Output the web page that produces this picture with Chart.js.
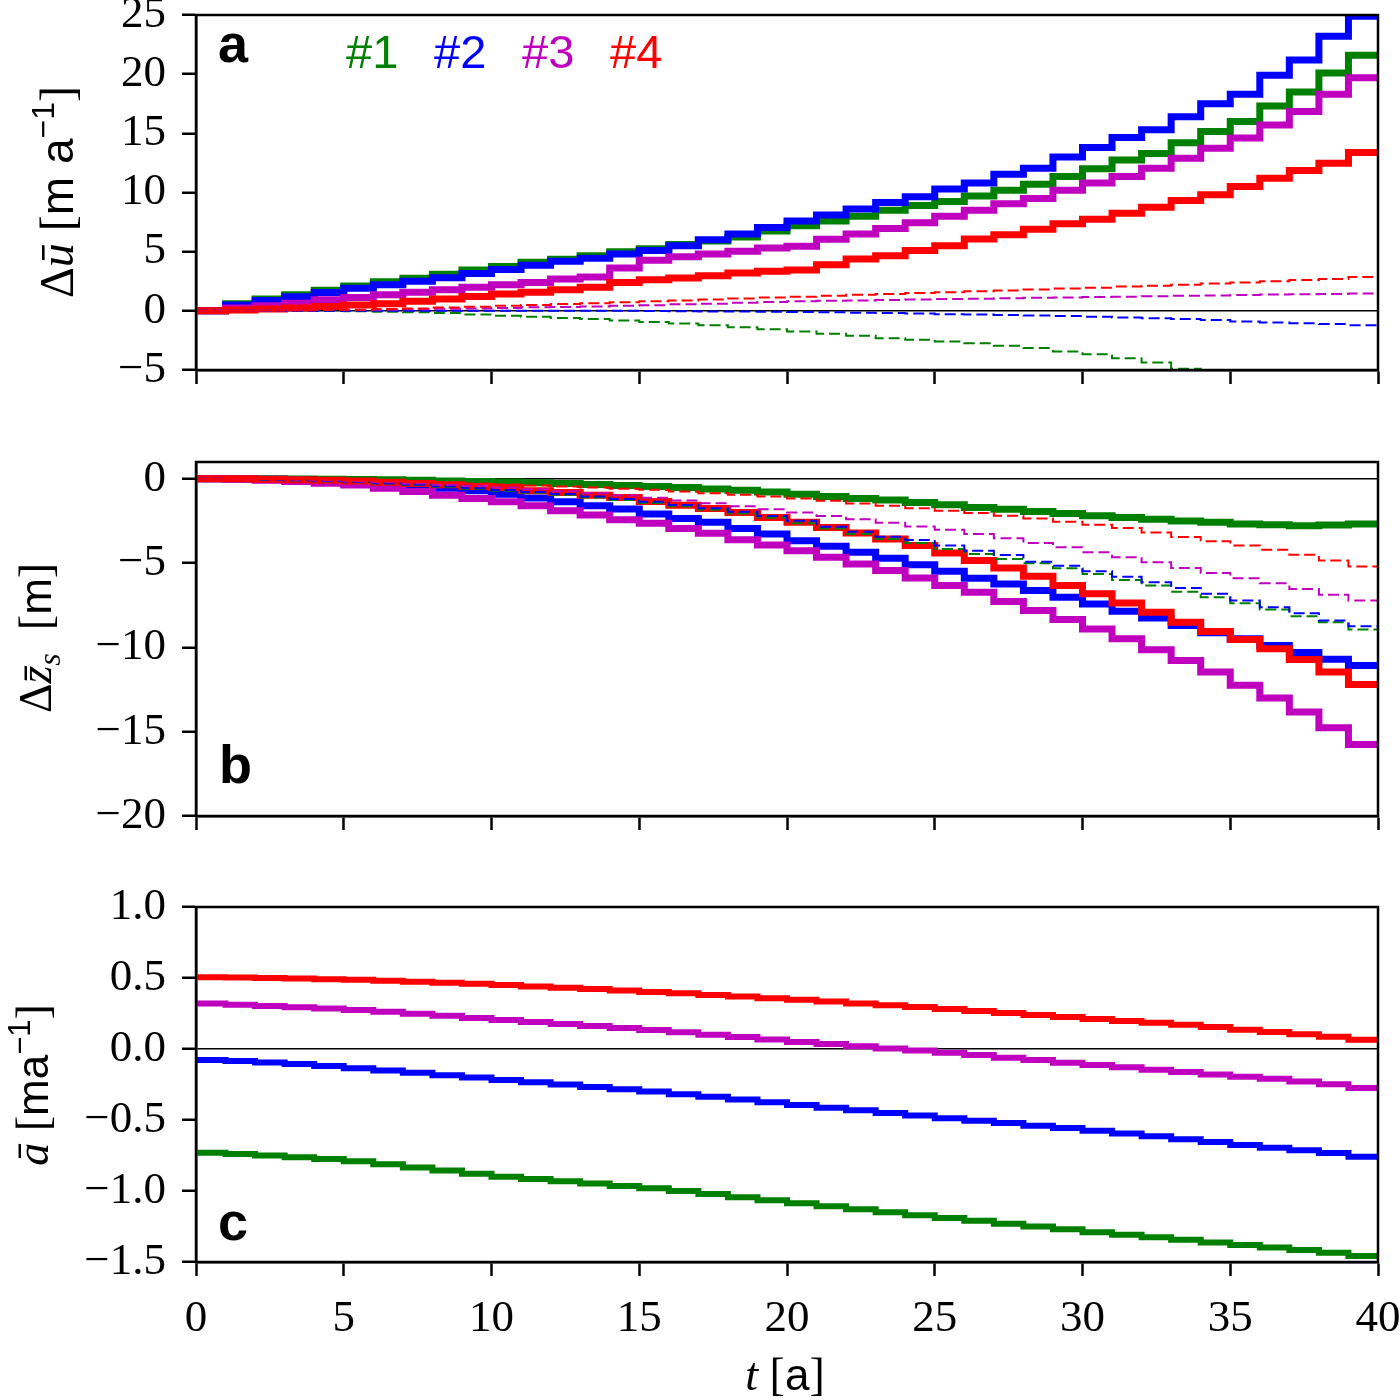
<!DOCTYPE html>
<html>
<head>
<meta charset="utf-8">
<script src="https://cdn.jsdelivr.net/npm/chart.js@4.4.1/dist/chart.umd.min.js"></script>
<style>
  html, body { margin: 0; padding: 0; background: #fff; }
  #wrap { position: relative; width: 1400px; height: 1400px; background: #fff; }
  canvas { position: absolute; left: 0; }
</style>
</head>
<body>
<div id="wrap">
  <canvas id="cA" width="1400" height="400" style="top:0px"></canvas>
  <canvas id="cB" width="1400" height="410" style="top:440px"></canvas>
  <canvas id="cC" width="1400" height="520" style="top:880px"></canvas>
</div>
<script>
// time axis [a]
const years = [0, 1, 2, 3, 4, 5, 6, 7, 8, 9, 10, 11, 12, 13, 14, 15, 16, 17, 18, 19, 20,
  21, 22, 23, 24, 25, 26, 27, 28, 29, 30, 31, 32, 33, 34, 35, 36, 37, 38, 39, 40];

const runNames = ['#1', '#2', '#3', '#4'];
const runColors = ['#008000', '#0000ff', '#bf00bf', '#ff0000'];

// panel a: velocity change [m/a], solid and dashed
const duSolid1 = [0, 0.6, 1.0, 1.35, 1.75, 2.1, 2.45, 2.75, 3.1, 3.45,
  3.75, 4.1, 4.35, 4.65, 5.0, 5.25, 5.6, 5.9, 6.25, 6.75,
  7.2, 7.6, 8.0, 8.5, 8.9, 9.25, 9.7, 10.2, 10.7, 11.35,
  12.0, 12.75, 13.3, 14.2, 15.15, 16.0, 17.3, 18.5, 20.1, 21.6, 21.6];
const duSolid2 = [0, 0.5, 0.88, 1.2, 1.55, 1.9, 2.2, 2.5, 2.8, 3.15,
  3.5, 3.85, 4.2, 4.45, 4.8, 5.1, 5.5, 6.0, 6.5, 7.05,
  7.6, 8.1, 8.6, 9.15, 9.65, 10.3, 10.8, 11.55, 12.05, 13.0,
  13.8, 14.65, 15.3, 16.4, 17.5, 18.3, 19.9, 21.2, 23.2, 24.9, 24.9];
const duSolid3 = [0, 0.23, 0.42, 0.65, 0.93, 1.13, 1.36, 1.56, 1.78, 2.0,
  2.2, 2.4, 2.69, 2.86, 3.62, 4.27, 4.56, 4.8, 5.04, 5.3,
  5.45, 6.05, 6.5, 6.95, 7.45, 8.0, 8.5, 9.05, 9.5, 10.2,
  10.8, 11.35, 12.05, 12.9, 13.75, 14.6, 15.7, 16.85, 18.3, 19.7, 19.7];
const duSolid4 = [0, 0.08, 0.15, 0.23, 0.37, 0.5, 0.6, 0.8, 1.0, 1.22,
  1.42, 1.58, 1.78, 2.0, 2.4, 2.63, 2.77, 2.97, 3.2, 3.35,
  3.46, 3.89, 4.37, 4.65, 5.1, 5.5, 6.06, 6.42, 6.9, 7.35,
  7.75, 8.25, 8.76, 9.32, 9.8, 10.5, 11.2, 11.86, 12.48, 13.38, 13.38];
const duDash1 = [0, 0, 0, 0, -0.02, -0.04, -0.08, -0.12, -0.18, -0.3,
  -0.42, -0.5, -0.6, -0.7, -0.82, -0.95, -1.08, -1.22, -1.38, -1.55,
  -1.75, -1.94, -2.11, -2.31, -2.45, -2.59, -2.73, -2.96, -3.15, -3.44,
  -3.66, -4.0, -4.37, -4.9, -5.2, -5.5, -5.9, -6.3, -6.8, -7.3, -7.3];
const duDash2 = [0, 0, 0, 0, 0, 0, 0, 0, 0, 0,
  0, 0, 0, 0, 0, -0.02, -0.03, -0.05, -0.06, -0.08,
  -0.1, -0.13, -0.16, -0.19, -0.23, -0.28, -0.31, -0.35, -0.39, -0.44,
  -0.5, -0.56, -0.62, -0.7, -0.78, -0.9, -0.98, -1.05, -1.12, -1.22, -1.22];
const duDash3 = [0, 0, 0.02, 0.04, 0.06, 0.08, 0.1, 0.13, 0.17, 0.2,
  0.25, 0.3, 0.33, 0.37, 0.42, 0.48, 0.55, 0.6, 0.68, 0.74,
  0.8, 0.85, 0.88, 0.92, 0.96, 1.0, 1.03, 1.06, 1.1, 1.13,
  1.17, 1.2, 1.23, 1.27, 1.3, 1.33, 1.37, 1.4, 1.43, 1.47, 1.47];
const duDash4 = [0, 0, 0.02, 0.05, 0.08, 0.1, 0.15, 0.2, 0.28, 0.35,
  0.42, 0.5, 0.58, 0.65, 0.72, 0.8, 0.88, 0.95, 1.05, 1.12,
  1.2, 1.28, 1.35, 1.42, 1.5, 1.58, 1.65, 1.72, 1.8, 1.88,
  1.95, 2.05, 2.12, 2.2, 2.3, 2.4, 2.5, 2.6, 2.7, 2.85, 2.85];

// panel b: surface elevation change [m]
const dzSolid1 = [0, 0, 0, -0.01, -0.02, -0.04, -0.06, -0.09, -0.12, -0.15,
  -0.19, -0.23, -0.28, -0.33, -0.39, -0.45, -0.52, -0.6, -0.68, -0.78,
  -0.91, -1.05, -1.16, -1.26, -1.4, -1.54, -1.7, -1.8, -1.93, -2.05,
  -2.19, -2.29, -2.39, -2.5, -2.58, -2.68, -2.72, -2.78, -2.74, -2.68, -2.68];
const dzSolid2 = [0, -0.01, -0.03, -0.07, -0.13, -0.22, -0.32, -0.45, -0.55, -0.71,
  -0.91, -1.14, -1.36, -1.6, -1.79, -2.09, -2.35, -2.58, -2.94, -3.27,
  -3.67, -4.0, -4.36, -4.71, -5.1, -5.48, -5.9, -6.23, -6.63, -7.02,
  -7.42, -7.85, -8.26, -8.7, -9.13, -9.49, -9.88, -10.3, -10.7, -11.07, -11.07];
const dzSolid3 = [0, -0.02, -0.08, -0.15, -0.26, -0.37, -0.55, -0.75, -0.97, -1.16,
  -1.36, -1.6, -1.89, -2.15, -2.43, -2.64, -2.94, -3.23, -3.61, -3.92,
  -4.26, -4.65, -5.05, -5.44, -5.88, -6.33, -6.73, -7.28, -7.81, -8.34,
  -8.9, -9.49, -10.14, -10.77, -11.46, -12.25, -13.0, -13.83, -14.77, -15.76, -15.76];
const dzSolid4 = [0, 0, -0.02, -0.05, -0.08, -0.13, -0.2, -0.27, -0.35, -0.45,
  -0.51, -0.71, -0.81, -0.97, -1.1, -1.34, -1.56, -1.76, -1.99, -2.29,
  -2.58, -2.88, -3.21, -3.57, -3.96, -4.4, -4.85, -5.29, -5.78, -6.33,
  -6.82, -7.36, -7.91, -8.5, -9.05, -9.53, -10.08, -10.71, -11.46, -12.2, -12.2];
const dzDash1 = [0, -0.01, -0.04, -0.08, -0.14, -0.2, -0.28, -0.37, -0.47, -0.58,
  -0.7, -0.82, -0.95, -1.1, -1.26, -1.43, -1.62, -1.83, -2.05, -2.3,
  -2.64, -2.94, -3.27, -3.57, -3.81, -4.16, -4.46, -4.75, -5.01, -5.31,
  -5.64, -6.0, -6.33, -6.69, -7.02, -7.38, -7.75, -8.15, -8.5, -8.93, -8.93];
const dzDash2 = [0, -0.01, -0.04, -0.08, -0.13, -0.19, -0.26, -0.34, -0.44, -0.55,
  -0.66, -0.78, -0.9, -1.04, -1.2, -1.36, -1.55, -1.75, -1.95, -2.2,
  -2.49, -2.84, -3.14, -3.43, -3.63, -3.96, -4.26, -4.52, -4.91, -5.15,
  -5.48, -5.8, -6.13, -6.47, -6.82, -7.22, -7.61, -7.97, -8.4, -8.75, -8.75];
const dzDash3 = [0, -0.01, -0.03, -0.06, -0.1, -0.15, -0.2, -0.27, -0.35, -0.43,
  -0.52, -0.62, -0.73, -0.85, -0.98, -1.12, -1.28, -1.45, -1.62, -1.8,
  -2.0, -2.2, -2.4, -2.6, -2.82, -3.02, -3.27, -3.53, -3.81, -4.06,
  -4.36, -4.65, -4.95, -5.29, -5.58, -5.9, -6.19, -6.53, -6.88, -7.22, -7.22];
const dzDash4 = [0, 0, -0.01, -0.03, -0.06, -0.1, -0.14, -0.18, -0.23, -0.28,
  -0.33, -0.39, -0.45, -0.52, -0.58, -0.65, -0.75, -0.85, -0.95, -1.05,
  -1.16, -1.3, -1.46, -1.6, -1.74, -1.89, -2.03, -2.19, -2.35, -2.54,
  -2.72, -2.92, -3.18, -3.45, -3.7, -3.95, -4.2, -4.5, -4.85, -5.2, -5.2];

// panel c: mean mass balance [m/a]
const acc1 = [-0.73, -0.74, -0.75, -0.762, -0.775, -0.79, -0.812, -0.834, -0.856, -0.878,
  -0.9, -0.916, -0.932, -0.948, -0.964, -0.98, -1.0, -1.022, -1.044, -1.066,
  -1.087, -1.108, -1.128, -1.149, -1.17, -1.19, -1.21, -1.23, -1.25, -1.27,
  -1.29, -1.308, -1.326, -1.344, -1.362, -1.38, -1.398, -1.416, -1.434, -1.458, -1.458];
const acc2 = [-0.077, -0.085, -0.095, -0.106, -0.12, -0.136, -0.152, -0.168, -0.185, -0.2,
  -0.218, -0.234, -0.25, -0.267, -0.283, -0.3, -0.318, -0.337, -0.356, -0.375,
  -0.394, -0.413, -0.432, -0.45, -0.469, -0.488, -0.505, -0.522, -0.54, -0.557,
  -0.575, -0.595, -0.615, -0.635, -0.655, -0.676, -0.695, -0.713, -0.733, -0.758, -0.758];
const acc3 = [0.32, 0.312, 0.303, 0.294, 0.285, 0.275, 0.262, 0.248, 0.234, 0.219,
  0.204, 0.19, 0.176, 0.162, 0.148, 0.134, 0.118, 0.101, 0.084, 0.067,
  0.05, 0.035, 0.02, 0.004, -0.011, -0.026, -0.043, -0.061, -0.078, -0.096,
  -0.113, -0.129, -0.146, -0.162, -0.179, -0.195, -0.21, -0.228, -0.248, -0.275, -0.275];
const acc4 = [0.505, 0.503, 0.5, 0.496, 0.492, 0.487, 0.481, 0.474, 0.467, 0.459,
  0.45, 0.441, 0.432, 0.422, 0.412, 0.402, 0.392, 0.381, 0.37, 0.358,
  0.346, 0.334, 0.321, 0.308, 0.295, 0.282, 0.268, 0.254, 0.24, 0.226,
  0.212, 0.198, 0.184, 0.17, 0.155, 0.136, 0.12, 0.104, 0.086, 0.066, 0.066];

const SERIF = '"Liberation Serif", "DejaVu Serif", serif';
const SANS = '"Liberation Sans", "DejaVu Sans", sans-serif';

const pts = vals => years.map((t, i) => ({ x: t, y: vals[i] }));

// value i is held from year i to year i+1
function solid(vals, color, width) {
    return { data: pts(vals), borderColor: color, borderWidth: width, stepped: 'before',
        pointRadius: 0, fill: false, clip: 0 };
}

function dashed(vals, color) {
    return { data: pts(vals), borderColor: color, borderWidth: 2, borderDash: [11, 5], stepped: 'before',
        pointRadius: 0, fill: false, clip: 0 };
}

const minus = v => (v < 0 ? '\u2212' : '') + Math.abs(v);

// text made of pieces in different fonts, centered on (cx, cy)
function drawPieces(ctx, pieces, cx, cy, angle) {
    ctx.save();
    ctx.translate(cx, cy);
    ctx.rotate(angle);
    let w = 0;
    for (const p of pieces) { ctx.font = p.font; w += ctx.measureText(p.t).width; }
    let x = -w / 2;
    ctx.fillStyle = '#000';
    ctx.textAlign = 'left';
    ctx.textBaseline = 'alphabetic';
    for (const p of pieces) {
        ctx.font = p.font;
        ctx.fillText(p.t, x, 15 + (p.dy || 0));
        x += ctx.measureText(p.t).width;
    }
    ctx.restore();
}

function decor(extra) {
    return {
        id: 'decor',
        afterDatasetsDraw(chart) {
            const { ctx, chartArea: a } = chart;
            ctx.save();
            ctx.strokeStyle = '#000';
            ctx.lineWidth = 2.5;
            ctx.strokeRect(a.left, a.top, a.right - a.left, a.bottom - a.top);
            ctx.restore();
        },
        afterDraw(chart) { extra(chart.ctx); }
    };
}

function panelOptions(o) {
    return {
        responsive: false,
        animation: false,
        layout: { padding: { top: o.top, right: 22, left: 0, bottom: 0 } },
        plugins: { legend: { display: false }, tooltip: { enabled: false } },
        scales: {
            x: {
                type: 'linear', min: 0, max: 40,
                ticks: { stepSize: 5, display: o.showX, color: '#000', padding: 16,
                    font: { family: SERIF, size: 45 } },
                grid: { drawOnChartArea: false, tickColor: '#000', tickWidth: 2.5, tickLength: 14 },
                border: { color: '#000', width: 2.5 },
                afterFit: s => { s.height = o.xh; s.paddingLeft = 0; s.paddingRight = 0; }
            },
            y: {
                type: 'linear', min: o.min, max: o.max,
                ticks: { stepSize: o.step, includeBounds: false, color: '#000', padding: 16,
                    font: { family: SERIF, size: 45 }, callback: o.fmt },
                grid: {
                    color: c => (c.tick && c.tick.value === 0 ? '#000' : 'rgba(0,0,0,0)'),
                    lineWidth: 1.5, tickColor: '#000', tickWidth: 2.5, tickLength: 14
                },
                border: { color: '#000', width: 2.5 },
                afterFit: s => { s.width = 196; s.paddingTop = 0; s.paddingBottom = 0; }
            }
        }
    };
}

function panelLetter(ctx, t, x, y) {
    ctx.save();
    ctx.fillStyle = '#000';
    ctx.font = 'bold 54px ' + SANS;
    ctx.textAlign = 'left';
    ctx.textBaseline = 'alphabetic';
    ctx.fillText(t, x, y);
    ctx.restore();
}

// panel a
new Chart(document.getElementById('cA'), {
    type: 'line',
    data: { datasets: [
        dashed(duDash4, runColors[3]), dashed(duDash3, runColors[2]),
        dashed(duDash2, runColors[1]), dashed(duDash1, runColors[0]),
        solid(duSolid4, runColors[3], 7), solid(duSolid3, runColors[2], 7),
        solid(duSolid2, runColors[1], 7), solid(duSolid1, runColors[0], 7)
    ] },
    options: panelOptions({ top: 15, xh: 30, showX: false, min: -5, max: 25, step: 5, fmt: minus }),
    plugins: [decor(ctx => {
        panelLetter(ctx, 'a', 218, 62);
        const legendX = [346, 434, 522, 610];
        ctx.save();
        ctx.font = '47px ' + SANS;
        ctx.textBaseline = 'alphabetic';
        runNames.forEach((n, i) => { ctx.fillStyle = runColors[i]; ctx.fillText(n, legendX[i], 68); });
        ctx.restore();
        drawPieces(ctx, [
            { t: '\u0394', font: '48px ' + SERIF },
            { t: '\u016B', font: 'italic 48px ' + SERIF },
            { t: ' [', font: '48px ' + SERIF },
            { t: 'm a', font: '46px ' + SANS },
            { t: '\u22121', font: '32px ' + SANS, dy: -19 },
            { t: ']', font: '48px ' + SERIF }
        ], 58, 192, -Math.PI / 2);
    })]
});

// panel b
new Chart(document.getElementById('cB'), {
    type: 'line',
    data: { datasets: [
        dashed(dzDash4, runColors[3]), dashed(dzDash3, runColors[2]),
        dashed(dzDash2, runColors[1]), dashed(dzDash1, runColors[0]),
        solid(dzSolid4, runColors[3], 7), solid(dzSolid3, runColors[2], 7),
        solid(dzSolid2, runColors[1], 7), solid(dzSolid1, runColors[0], 7)
    ] },
    options: panelOptions({ top: 22, xh: 34, showX: false, min: -20, max: 1, step: 5, fmt: minus }),
    plugins: [decor(ctx => {
        panelLetter(ctx, 'b', 219, 343);
        drawPieces(ctx, [
            { t: '\u0394', font: '46px ' + SERIF },
            { t: 'z\u0304', font: 'italic 46px ' + SERIF },
            { t: 's', font: 'italic 32px ' + SERIF, dy: 9 },
            { t: '  [', font: '46px ' + SERIF },
            { t: 'm', font: '44px ' + SANS },
            { t: ']', font: '46px ' + SERIF }
        ], 36, 198, -Math.PI / 2);
    })]
});

// panel c
new Chart(document.getElementById('cC'), {
    type: 'line',
    data: { datasets: [
        solid(acc4, runColors[3], 6), solid(acc3, runColors[2], 6),
        solid(acc2, runColors[1], 6), solid(acc1, runColors[0], 6)
    ] },
    options: panelOptions({ top: 27, xh: 138, showX: true, min: -1.5, max: 1.0, step: 0.5,
        fmt: v => (v < 0 ? '\u2212' : '') + Math.abs(v).toFixed(1) }),
    plugins: [decor(ctx => {
        panelLetter(ctx, 'c', 218, 360);
        drawPieces(ctx, [
            { t: '\u0101', font: 'italic 46px ' + SERIF },
            { t: ' [', font: '46px ' + SERIF },
            { t: 'ma', font: '44px ' + SANS },
            { t: '\u22121', font: '31px ' + SANS, dy: -18 },
            { t: ']', font: '46px ' + SERIF }
        ], 33, 205, -Math.PI / 2);
        drawPieces(ctx, [
            { t: 't', font: 'italic 46px ' + SERIF },
            { t: ' [', font: '46px ' + SERIF },
            { t: 'a', font: '44px ' + SANS },
            { t: ']', font: '46px ' + SERIF }
        ], 785, 495, 0);
    })]
});
</script>
</body>
</html>
